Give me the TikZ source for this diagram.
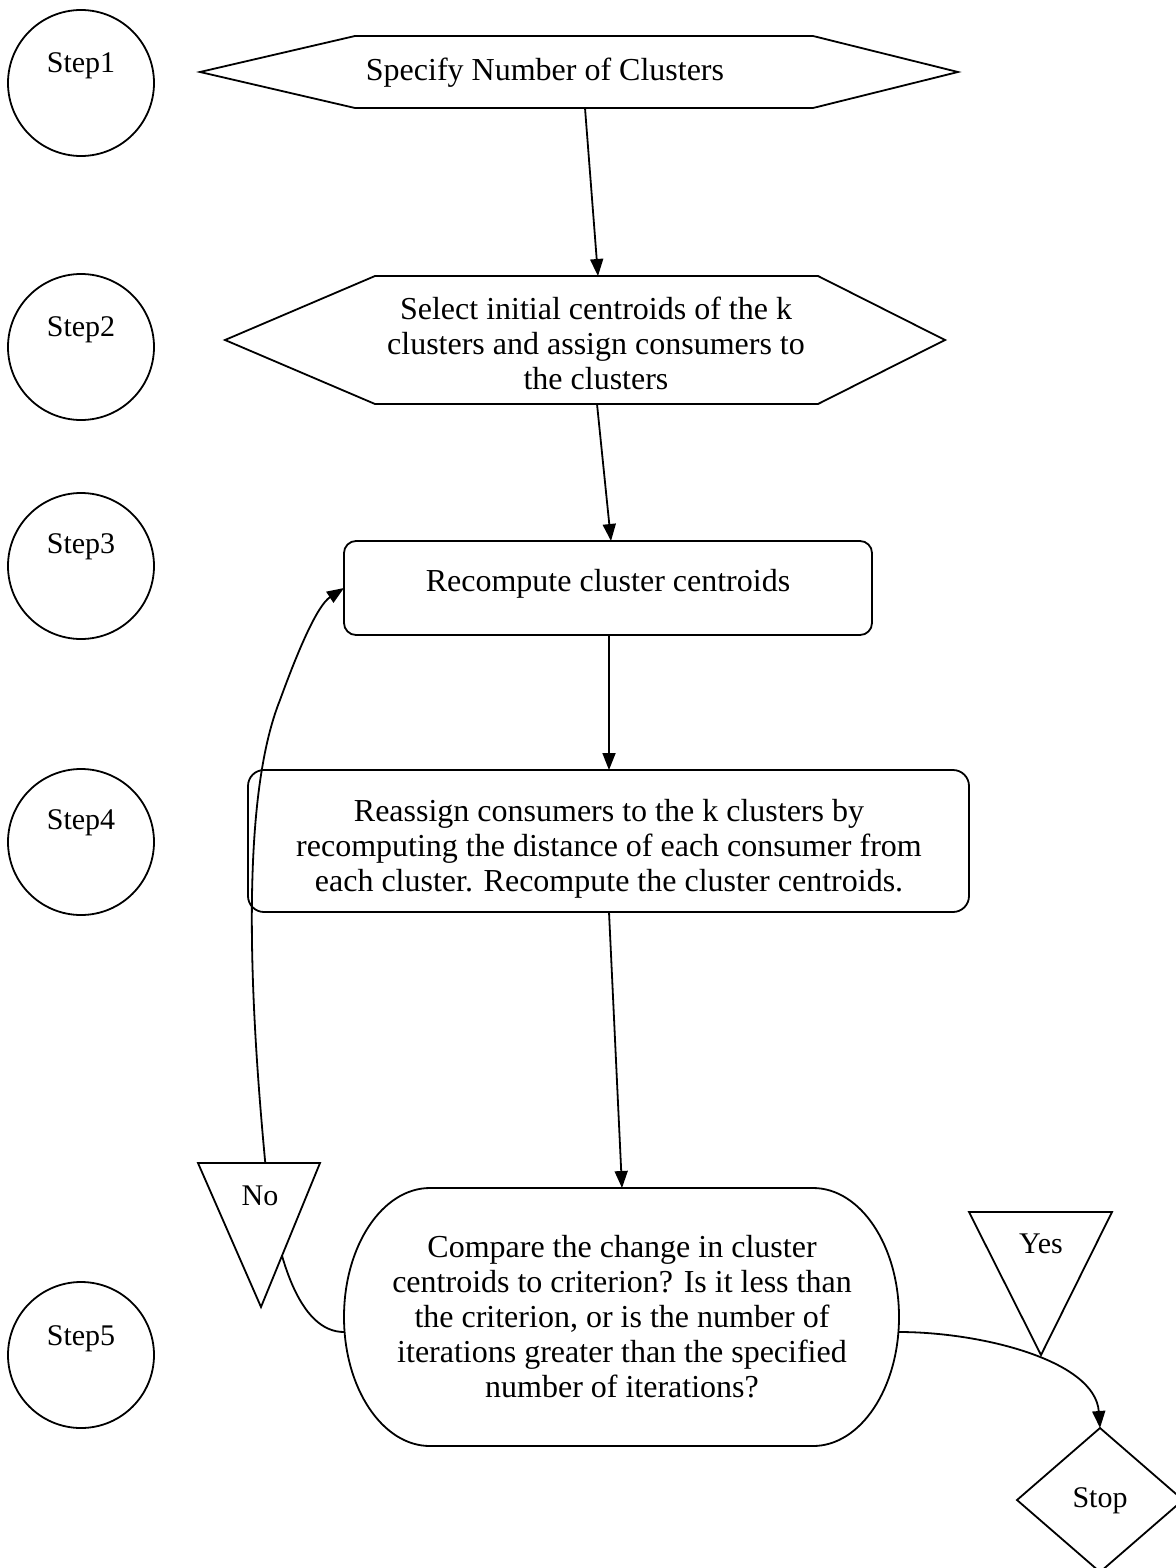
\documentclass[tikz,border=0pt]{standalone}
\usepackage{fontspec}
\setmainfont{Liberation Serif}
\usetikzlibrary{arrows.meta}
\begin{document}
\begin{tikzpicture}[x=1pt,y=-1pt,
  txt/.style={font=\fontsize{32}{35}\selectfont, align=center, inner sep=0pt},
  stxt/.style={font=\fontsize{30}{35}\selectfont, inner sep=0pt},
  shp/.style={draw, line width=1.8pt, line join=miter},
  arr/.style={line width=1.8pt, -{Triangle[length=17pt,width=13pt]}},
  stepc/.style={circle, draw, line width=1.8pt, minimum size=146pt, inner sep=0pt}]
\useasboundingbox (0,0) rectangle (1175,1568);
% step circles
\node[stepc] (s1) at (81,83) {};
\node[stepc] (s2) at (81,347) {};
\node[stepc] (s3) at (81,566) {};
\node[stepc] (s4) at (81,842) {};
\node[stepc] (s5) at (81,1355) {};
\node[stxt, anchor=base] (s1t) at (81,73) {Step1};
\node[stxt, anchor=base] (s2t) at (81,336) {Step2};
\node[stxt, anchor=base] (s3t) at (81,553) {Step3};
\node[stxt, anchor=base] (s4t) at (81,829) {Step4};
\node[stxt, anchor=base] (s5t) at (81,1345) {Step5};
% hexagon 1
\draw[shp] (200,72) -- (355,36) -- (813,36) -- (958,72) -- (813,108) -- (355,108) -- cycle;
\node[txt, anchor=base] (h1) at (545,81) {Specify Number of Clusters};
\coordinate (h1b) at (585,108);
% hexagon 2
\draw[shp] (225,340) -- (375,276) -- (818,276) -- (945,340) -- (818,404) -- (375,404) -- cycle;
\node[txt] (h2) at (596,343) {Select initial centroids of the k\\clusters and assign consumers to\\the clusters};
\coordinate (h2t) at (598,276);
\coordinate (h2b) at (597,404);
% rect 3
\draw[shp, rounded corners=12pt] (344,541) rectangle (872,635);
\node[txt] (r3) at (608,584) {Recompute cluster centroids};
\coordinate (r3t) at (611,541);
\coordinate (r3b) at (609,635);
\coordinate (r3w) at (344,588);
% rect 4
\draw[shp, rounded corners=16pt] (248,770) rectangle (969,912);
\node[txt] (r4) at (609,849) {Reassign consumers to the k clusters by\\recomputing the distance of each consumer from\\each cluster. Recompute the cluster centroids.};
\coordinate (r4t) at (609,770);
\coordinate (r4b) at (609,912);
% stadium
\draw[shp] (430,1188) -- (813,1188) arc[start angle=-90,end angle=90,x radius=86,y radius=129]
  -- (430,1446) arc[start angle=90,end angle=270,x radius=86,y radius=129] -- cycle;
\node[txt] (st) at (622,1317) {Compare the change in cluster\\centroids to criterion? Is it less than\\the criterion, or is the number of\\iterations greater than the specified\\number of iterations?};
\coordinate (stt) at (622,1188);
\coordinate (stw) at (344,1332);
\coordinate (ste) at (899,1332);
% stop diamond
\draw[shp] (1100,1428) -- (1183,1500) -- (1100,1572) -- (1017,1500) -- cycle;
\node[stxt, anchor=base] (stop) at (1100,1507) {Stop};
\coordinate (stopt) at (1100,1428);
% arrows
\draw[arr] (h1b) -- (h2t);
\draw[arr] (h2b) -- (r3t);
\draw[arr] (r3b) -- (r4t);
\draw[arr] (r4b) -- (stt);
\draw[arr] (stw) .. controls (300,1332) and (275,1260) .. (265,1160)
  .. controls (250,1000) and (240,800) .. (280,700)
  .. controls (300,645) and (318,605) .. (r3w);
\draw[arr] (ste) .. controls (980,1332) and (1095,1360) .. (stopt);
% decision triangles
\draw[shp, fill=white] (198,1163) -- (320,1163) -- (261,1307) -- cycle;
\node[stxt, anchor=base] (no) at (260,1205) {No};
\draw[shp, fill=white] (969,1212) -- (1112,1212) -- (1041,1355) -- cycle;
\node[stxt, anchor=base] (yes) at (1041,1253) {Yes};
\end{tikzpicture}
\end{document}
